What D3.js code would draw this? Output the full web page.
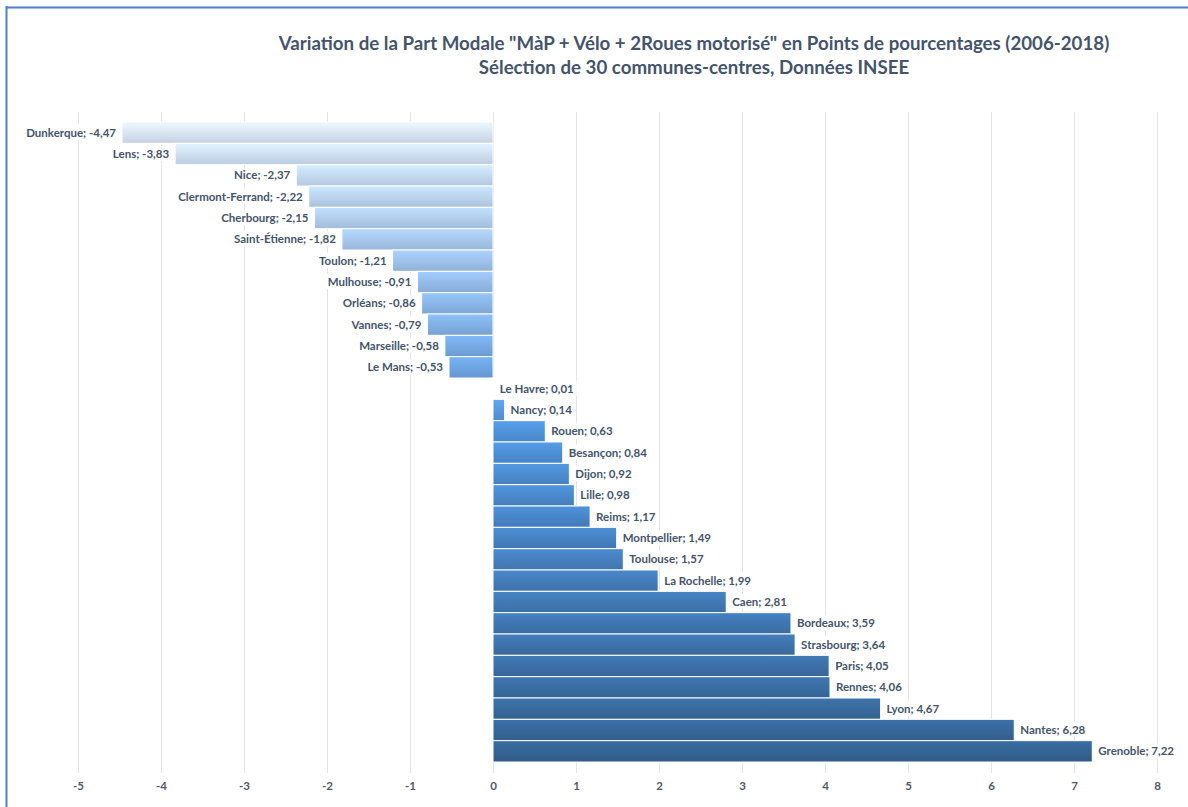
<!DOCTYPE html>
<html>
<head>
<meta charset="utf-8">
<script src="https://cdn.jsdelivr.net/npm/d3@7"></script>
<style>
  body { margin: 0; background: #fff; }
  text { font-family: Lato, "Open Sans", sans-serif; }
</style>
</head>
<body>
<div id="chart"></div>
<script>
// communes, ordered as in the chart (top to bottom)
var communes = ["Dunkerque", "Lens", "Nice", "Clermont-Ferrand", "Cherbourg", "Saint-Étienne",
  "Toulon", "Mulhouse", "Orléans", "Vannes", "Marseille", "Le Mans", "Le Havre", "Nancy",
  "Rouen", "Besançon", "Dijon", "Lille", "Reims", "Montpellier", "Toulouse", "La Rochelle",
  "Caen", "Bordeaux", "Strasbourg", "Paris", "Rennes", "Lyon", "Nantes", "Grenoble"];
var variation = [-4.47, -3.83, -2.37, -2.22, -2.15, -1.82, -1.21, -0.91, -0.86, -0.79, -0.58, -0.53,
  0.01, 0.14, 0.63, 0.84, 0.92, 0.98, 1.17, 1.49, 1.57, 1.99, 2.81, 3.59, 3.64, 4.05, 4.06, 4.67, 6.28, 7.22];
var xTicks = [-5, -4, -3, -2, -1, 0, 1, 2, 3, 4, 5, 6, 7, 8];
var title1 = 'Variation de la Part Modale "MàP + Vélo + 2Roues motorisé" en Points de pourcentages (2006-2018)';
var title2 = "Sélection de 30 communes-centres, Données INSEE";

var W = 1188, H = 807;
var margin = {top: 122, left: 78, right: 31, bottom: 45};

var data = communes.map(function(c, i) { return {name: c, value: variation[i]}; });

var svg = d3.select("#chart").append("svg")
  .attr("width", W).attr("height", H);

// frame lines
svg.append("line").attr("x1", 6.5).attr("x2", 6.5).attr("y1", 6).attr("y2", H)
  .attr("stroke", "#4f7fd0").attr("stroke-width", 2);
svg.append("line").attr("x1", 6).attr("x2", W).attr("y1", 7.5).attr("y2", 7.5)
  .attr("stroke", "#4f7fd0").attr("stroke-width", 2);

var x = d3.scaleLinear().domain([-5, 8]).range([margin.left, W - margin.right]);
var y = d3.scaleBand().domain(communes).range([margin.top, 762]).padding(0);

// titles
svg.append("text").attr("x", 694).attr("y", 50).attr("text-anchor", "middle")
  .attr("font-size", 18.7).attr("font-weight", "bold").attr("fill", "#44546a").text(title1);
svg.append("text").attr("x", 694).attr("y", 74).attr("text-anchor", "middle")
  .attr("font-size", 18.7).attr("font-weight", "bold").attr("fill", "#44546a").text(title2);

// gridlines
svg.append("g").selectAll("line").data(xTicks).enter().append("line")
  .attr("x1", function(d) { return Math.round(x(d)) + 0.5; })
  .attr("x2", function(d) { return Math.round(x(d)) + 0.5; })
  .attr("y1", 112).attr("y2", 773)
  .attr("stroke", "#e3e3ea").attr("stroke-width", 1);

// x axis labels
var xAxis = d3.axisBottom(x).tickValues(xTicks).tickSize(0).tickPadding(0)
  .tickFormat(function(d) { return String(d); });
var ax = svg.append("g").attr("transform", "translate(0,782)").call(xAxis);
ax.select(".domain").remove();
ax.selectAll("text").attr("font-size", 11.5).attr("font-weight", "bold")
  .attr("fill", "#505a6a").attr("font-family", "Lato, sans-serif");

// colour progression light -> bright -> dark
var colour = d3.scaleLinear()
  .domain([0, 14, 29])
  .range(["#d0ddef", "#4d8dd3", "#33608f"])
  .interpolate(d3.interpolateRgb);

var defs = svg.append("defs");
data.forEach(function(d, i) {
  var c = d3.color(colour(i));
  var g = defs.append("linearGradient").attr("id", "g" + i)
    .attr("x1", 0).attr("x2", 0).attr("y1", 0).attr("y2", 1);
  g.append("stop").attr("offset", "0%").attr("stop-color", c.brighter(0.35));
  g.append("stop").attr("offset", "100%").attr("stop-color", c.darker(0.15));
});

// bars
svg.append("g").selectAll("rect").data(data).enter().append("rect")
  .attr("x", function(d) { return x(Math.min(0, d.value)); })
  .attr("y", function(d) { return y(d.name); })
  .attr("width", function(d) { return Math.abs(x(d.value) - x(0)); })
  .attr("height", y.bandwidth())
  .attr("fill", function(d, i) { return "url(#g" + i + ")"; })
  .attr("stroke", "#fff").attr("stroke-width", 1);

// labels with white background
var labels = svg.append("g").selectAll("g").data(data).enter().append("g");
labels.append("rect").attr("class", "bg").attr("fill", "#fff");
labels.append("text")
  .attr("x", function(d) { return d.value < 0 ? x(d.value) - 6 : x(d.value) + 6; })
  .attr("y", function(d) { return y(d.name) + y.bandwidth() / 2; })
  .attr("dy", "0.35em")
  .attr("text-anchor", function(d) { return d.value < 0 ? "end" : "start"; })
  .attr("font-size", 11.5).attr("font-weight", "bold").attr("fill", "#44546a")
  .text(function(d) { return d.name + "; " + d.value.toFixed(2).replace(".", ","); });
labels.each(function() {
  var gEl = d3.select(this);
  var b = gEl.select("text").node().getBBox();
  gEl.select("rect.bg").attr("x", b.x - 3).attr("y", b.y - 1)
    .attr("width", b.width + 6).attr("height", b.height + 2);
});
</script>
</body>
</html>
